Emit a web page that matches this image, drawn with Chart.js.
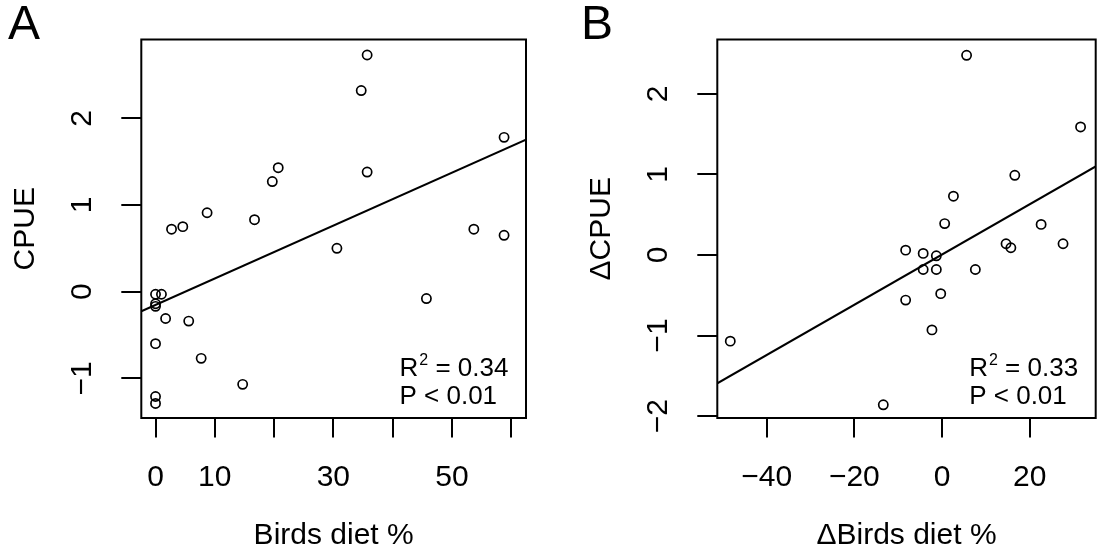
<!DOCTYPE html>
<html>
<head>
<meta charset="utf-8">
<title>CPUE and birds in the diet</title>
<script src="https://cdn.jsdelivr.net/npm/chart.js@4.4.1/dist/chart.umd.min.js"></script>
<style>
  html, body { margin: 0; padding: 0; background: #fff; }
  #wrap { display: flex; width: 1102px; height: 554px; }
  canvas { display: block; }
</style>
</head>
<body>
<div id="wrap">
  <canvas id="panelA" width="551" height="554"></canvas>
  <canvas id="panelB" width="551" height="554"></canvas>
</div>
<script>
// --- Data ---
// Panel A: CPUE against share of birds in the diet
const birdsDiet = [0, 1.0, 0, 0, 0, 0, 0, 1.7, 5.6, 7.7, 14.7, 45.7, 2.7, 4.6, 8.7,
                   16.7, 19.7, 20.7, 30.6, 34.7, 35.7, 35.7, 53.7, 58.8, 58.8];
const cpue = [-0.03, -0.03, -0.14, -0.17, -0.60, -1.21, -1.29, -0.31, -0.34, -0.77, -1.07, -0.08, 0.72, 0.75, 0.91,
              0.83, 1.27, 1.43, 0.50, 2.32, 2.73, 1.38, 0.72, 1.78, 0.65];

// Panel B: changes between years
const deltaBirdsDiet = [5.6, 31.6, 16.6, 2.6, 0.6, 22.6, 14.6, 15.7, 27.6, -8.3,
                        -4.3, -1.3, -4.3, -1.3, 7.6, -0.3, -8.3, -2.3, -48.3, -13.4];
const deltaCpue = [2.48, 1.59, 0.99, 0.73, 0.39, 0.38, 0.14, 0.09, 0.14, 0.06,
                   0.02, -0.01, -0.18, -0.18, -0.18, -0.48, -0.56, -0.93, -1.07, -1.86];

// fitted lines (intercept, slope) and their summary stats
const fitA = [-0.154, 0.0305];
const fitB = [0.006, 0.0312];
const statsA = ['0.34', '< 0.01'];
const statsB = ['0.33', '< 0.01'];

// axis limits and tick marks
const xLimitsA = [-2.4, 62.5];
const yLimitsA = [-1.458, 2.909];
const xLimitsB = [-51.26, 35.05];
const yLimitsB = [-2.024, 2.676];
const xTicksA = [0, 10, 20, 30, 40, 50, 60];
const xTickLabelsA = ['0', '10', '', '30', '', '50', ''];
const yTicksA = [-1, 0, 1, 2];
const xTicksB = [-40, -20, 0, 20];
const yTicksB = [-2, -1, 0, 1, 2];

const FONT = "'Liberation Sans', Arial, Helvetica, sans-serif";

// R style number: real minus sign
function fmt(v) {
    return v < 0 ? '\u2212' + Math.abs(v) : String(v);
}

// box round the plot, panel letter and the R^2 / P note
const frame = {
    id: 'frame',
    afterDraw(chart, args, opts) {
        const { ctx, chartArea: a } = chart;
        ctx.save();
        ctx.strokeStyle = '#000';
        ctx.lineWidth = 2;
        ctx.strokeRect(a.left, a.top, a.right - a.left, a.bottom - a.top);

        ctx.fillStyle = '#000';
        ctx.textBaseline = 'alphabetic';
        ctx.textAlign = 'left';
        ctx.font = '48px ' + FONT;
        ctx.fillText(opts.letter, opts.letterX, 39);

        const x = a.right - 126.5;
        const y1 = a.bottom - 42;
        const y2 = a.bottom - 14;
        ctx.font = '26px ' + FONT;
        ctx.fillText('R', x, y1);
        const wR = ctx.measureText('R').width;
        ctx.font = '16px ' + FONT;
        ctx.fillText('2', x + wR + 1, y1 - 11);
        const wSup = ctx.measureText('2').width;
        ctx.font = '26px ' + FONT;
        ctx.fillText(' = ' + opts.stats[0], x + wR + wSup + 1, y1);
        ctx.fillText('P ' + opts.stats[1], x, y2);
        ctx.restore();
    }
};

function axis(limits, ticks, labels, o) {
    return {
        type: 'linear',
        min: limits[0],
        max: limits[1],
        afterBuildTicks: s => { s.ticks = ticks.map(v => ({ value: v })); },
        afterFit: o.fit,
        border: { display: false },
        grid: { drawOnChartArea: false, drawTicks: true, tickLength: o.tickLength, color: '#000', lineWidth: 2 },
        ticks: {
            autoSkip: false,
            minRotation: o.rotation,
            maxRotation: o.rotation,
            crossAlign: o.crossAlign,
            padding: o.padding,
            color: '#000',
            font: { family: FONT, size: 30 },
            callback: (v, i) => labels[i]
        },
        title: {
            display: true,
            text: o.title,
            color: '#000',
            font: { family: FONT, size: 30 },
            padding: o.titlePadding
        }
    };
}

function makePanel(id, xs, ys, fit, cfg) {
    const points = xs.map((x, i) => ({ x, y: ys[i] }));
    const line = cfg.xLimits.map(x => ({ x, y: fit[0] + fit[1] * x }));
    return new Chart(document.getElementById(id), {
        type: 'scatter',
        data: {
            datasets: [
                {
                    data: points,
                    pointStyle: 'circle',
                    pointRadius: 4.6,
                    pointBorderWidth: 1.7,
                    pointBorderColor: '#000',
                    pointBackgroundColor: 'rgba(0,0,0,0)'
                },
                {
                    type: 'line',
                    data: line,
                    borderColor: '#000',
                    borderWidth: 2,
                    pointRadius: 0,
                    fill: false
                }
            ]
        },
        options: {
            responsive: false,
            animation: false,
            events: [],
            layout: { padding: { top: 33.7, right: cfg.padRight, bottom: 0, left: 0 } },
            plugins: {
                legend: { display: false },
                tooltip: { enabled: false },
                frame: { letter: cfg.letter, letterX: cfg.letterX, stats: cfg.stats }
            },
            scales: {
                x: axis(cfg.xLimits, cfg.xTicks, cfg.xLabels, {
                    fit: s => { s.height = 136; },
                    tickLength: 19.5, padding: 22, rotation: 0, crossAlign: 'near',
                    title: cfg.xTitle, titlePadding: { top: 0, bottom: 0.5 }
                }),
                y: axis(cfg.yLimits, cfg.yTicks, cfg.yTicks.map(fmt), {
                    fit: s => { s.width = cfg.yWidth; },
                    tickLength: 20, padding: 21.5, rotation: 90, crossAlign: 'center',
                    title: cfg.yTitle, titlePadding: { top: cfg.yTitleOffset, bottom: 0 }
                })
            }
        },
        plugins: [frame]
    });
}

makePanel('panelA', birdsDiet, cpue, fitA, {
    letter: 'A', letterX: 8, stats: statsA,
    xLimits: xLimitsA, yLimits: yLimitsA,
    xTicks: xTicksA, xLabels: xTickLabelsA, yTicks: yTicksA,
    xTitle: 'Birds diet %', yTitle: 'CPUE',
    yWidth: 141.3, padRight: 25, yTitleOffset: 7.8
});

makePanel('panelB', deltaBirdsDiet, deltaCpue, fitB, {
    letter: 'B', letterX: 30, stats: statsB,
    xLimits: xLimitsB, yLimits: yLimitsB,
    xTicks: xTicksB, xLabels: xTicksB.map(fmt), yTicks: yTicksB,
    xTitle: '\u0394Birds diet %', yTitle: '\u0394CPUE',
    yWidth: 166.3, padRight: 1.3, yTitleOffset: 32.8
});
</script>
</body>
</html>
